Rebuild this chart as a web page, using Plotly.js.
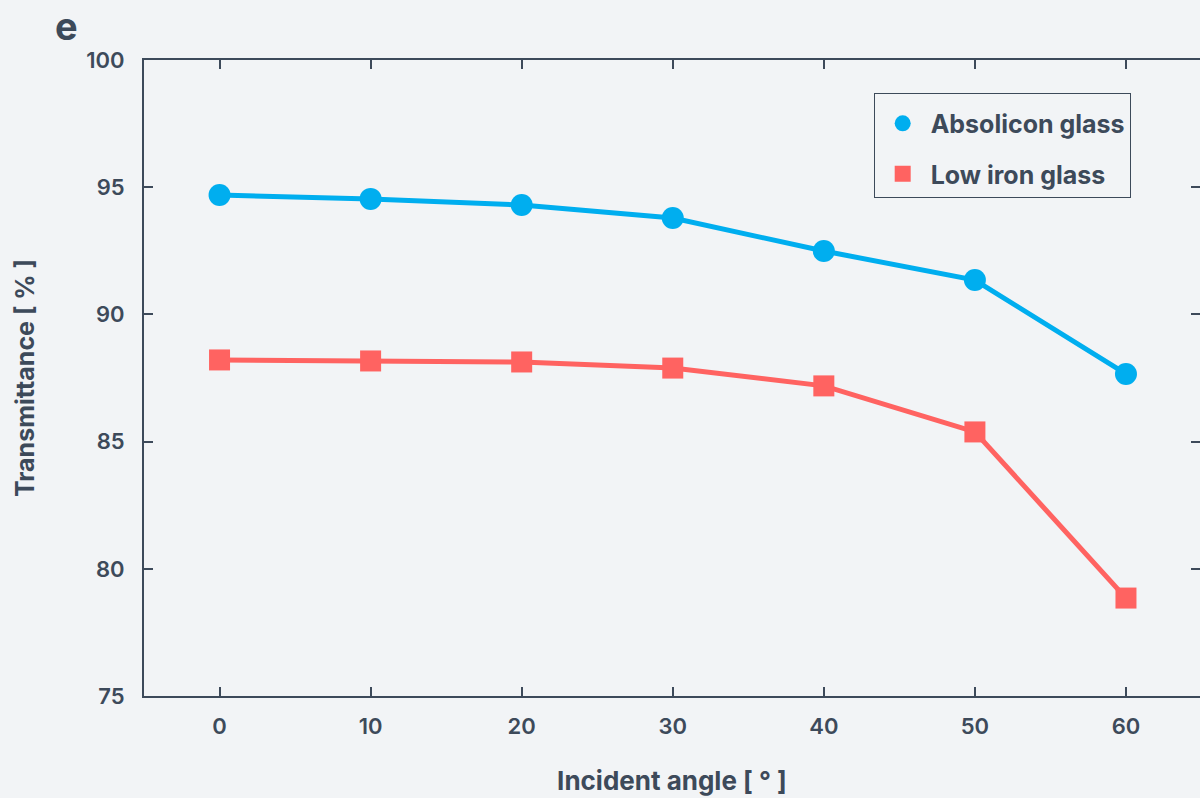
<!DOCTYPE html>
<html>
<head>
<meta charset="utf-8">
<script src="https://cdn.plot.ly/plotly-3.0.1.min.js"></script>
<style>html,body{margin:0;padding:0;background:#F2F4F6;}#chart{width:1200px;height:798px;}</style>
</head>
<body>
<div id="chart"></div>
<script>
const angles = [0, 10, 20, 30, 40, 50, 60];
const absoliconGlass = [94.69, 94.54, 94.30, 93.79, 92.49, 91.35, 87.66];
const lowIronGlass = [88.21, 88.17, 88.13, 87.89, 87.19, 85.38, 78.85];
const xTicks = [0, 10, 20, 30, 40, 50, 60];
const yTicks = [75, 80, 85, 90, 95, 100];

const ink = '#3D4A5A';
const fontFam = 'Inter, Roboto, sans-serif';
const blue = '#00AEEF';
const red = '#FF6361';

const traces = [
  {x: angles, y: absoliconGlass, name: 'Absolicon glass', mode: 'lines', showlegend: false,
   line: {color: blue, width: 5}},
  {x: angles, y: lowIronGlass, name: 'Low iron glass', mode: 'lines', showlegend: false,
   line: {color: red, width: 5}},
  {x: angles, y: absoliconGlass, name: 'Absolicon glass', mode: 'markers', legendgroup: 'a',
   marker: {symbol: 'circle', size: 22, color: blue}},
  {x: angles, y: lowIronGlass, name: 'Low iron glass', mode: 'markers', legendgroup: 'b',
   marker: {symbol: 'square', size: 21, color: red}}
];

const axisCommon = {
  showgrid: false, zeroline: false, showline: true, linecolor: ink, linewidth: 2,
  mirror: 'ticks', ticks: 'inside', ticklen: 9, tickwidth: 2, tickcolor: ink,
  tickfont: {family: fontFam, size: 22, color: ink, weight: 600}
};

const layout = {
  width: 1200, height: 798,
  paper_bgcolor: '#F2F4F6', plot_bgcolor: '#F2F4F6',
  margin: {l: 144, r: 0, t: 60, b: 102},
  font: {family: fontFam, color: ink},
  xaxis: Object.assign({}, axisCommon, {
    range: [-5, 64.9], tickvals: xTicks, ticklabelstandoff: 10,
    title: {text: 'Incident angle [ ° ]', font: {family: fontFam, size: 26, color: ink, weight: 700}, standoff: 33}
  }),
  yaxis: Object.assign({}, axisCommon, {
    range: [75, 100], tickvals: yTicks, ticklabelstandoff: 13,
    title: {text: 'Transmittance [ % ]', font: {family: fontFam, size: 25, color: ink, weight: 700}, standoff: 45}
  }),
  showlegend: true,
  legend: {
    x: 0.691, y: 0.948, xanchor: 'left', yanchor: 'top',
    bgcolor: 'rgba(0,0,0,0)', bordercolor: ink, borderwidth: 1,
    font: {family: fontFam, size: 25, color: ink, weight: 700},
    traceorder: 'grouped', tracegroupgap: 15, itemwidth: 46,
    title: {text: ' ', font: {size: 5}}
  },
  annotations: [{
    text: 'e', xref: 'paper', yref: 'paper', x: -0.073, y: 1.054, xanchor: 'center', yanchor: 'middle',
    showarrow: false, font: {family: fontFam, size: 38, color: ink, weight: 700}
  }]
};

Plotly.newPlot('chart', traces, layout, {displayModeBar: false, staticPlot: true});
</script>
</body>
</html>
